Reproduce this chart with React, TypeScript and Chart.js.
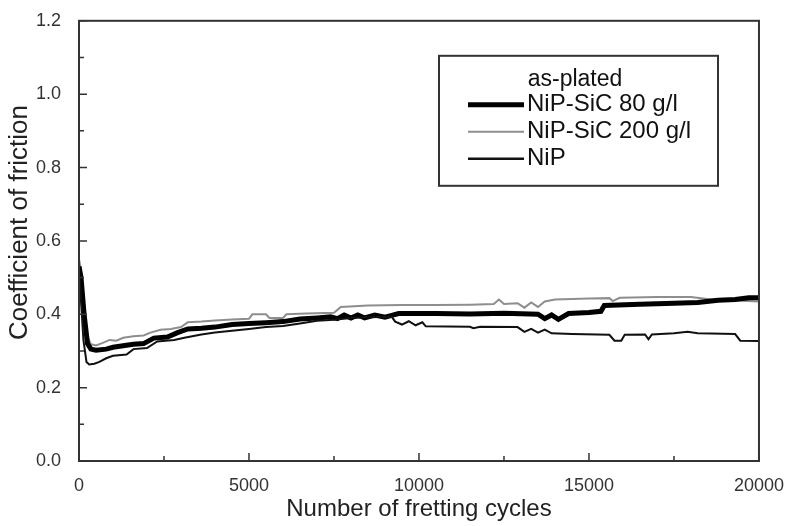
import React, { useEffect, useRef } from "react";
import { Chart, registerables } from "chart.js";

Chart.register(...registerables);

const xTicks = [0, 5000, 10000, 15000, 20000];
const yTicks = [0.0, 0.2, 0.4, 0.6, 0.8, 1.0, 1.2];
const legendTitle = "as-plated";
const xTitle = "Number of fretting cycles";
const yTitle = "Coefficient of friction";

const sic80Label = "NiP-SiC 80 g/l";
const sic80X = [0, 60, 150, 250, 350, 500, 800, 1000, 1300, 1600, 1900, 2200, 2600, 2900, 3200, 3600, 4000, 4500, 5000, 5500, 6000, 6500, 7000, 7400, 7600, 7800, 8000, 8200, 8400, 8700, 9000, 9200, 9400, 10500, 11500, 12500, 13500, 13700, 13900, 14100, 14400, 15000, 15350, 15450, 16500, 17500, 18200, 18800, 19300, 19700, 20000];
const sic80Y = [0.53, 0.5, 0.4, 0.32, 0.305, 0.302, 0.305, 0.31, 0.314, 0.318, 0.32, 0.335, 0.338, 0.35, 0.36, 0.362, 0.365, 0.372, 0.375, 0.377, 0.38, 0.387, 0.39, 0.393, 0.388, 0.398, 0.39, 0.398, 0.39, 0.398, 0.392, 0.397, 0.402, 0.402, 0.401, 0.403, 0.4, 0.388, 0.398, 0.386, 0.402, 0.405, 0.408, 0.424, 0.427, 0.43, 0.432, 0.438, 0.44, 0.445, 0.445];

const sic200Label = "NiP-SiC 200 g/l";
const sic200X = [0, 60, 150, 250, 350, 500, 700, 900, 1100, 1300, 1600, 1900, 2100, 2400, 2700, 3000, 3200, 3600, 4000, 4500, 5000, 5100, 5500, 5600, 6000, 6100, 6700, 7500, 7700, 8500, 9500, 10500, 11500, 12200, 12350, 12500, 12900, 13100, 13300, 13500, 13700, 14000, 15000, 15600, 15700, 15900, 17000, 18000, 18600, 19000, 19500, 20000];
const sic200Y = [0.55, 0.52, 0.42, 0.34, 0.318, 0.315, 0.322, 0.33, 0.328, 0.336, 0.34, 0.342, 0.35, 0.358, 0.36, 0.365, 0.378, 0.38, 0.383, 0.386, 0.388, 0.4, 0.4, 0.39, 0.39, 0.4, 0.402, 0.404, 0.42, 0.424, 0.425, 0.425, 0.426, 0.428, 0.44, 0.428, 0.43, 0.418, 0.432, 0.42, 0.435, 0.44, 0.443, 0.444, 0.436, 0.445, 0.447, 0.447, 0.44, 0.44, 0.437, 0.435];

const nipLabel = "NiP";
const nipX = [0, 50, 130, 220, 300, 450, 600, 800, 1000, 1400, 1600, 2000, 2300, 2800, 3100, 3600, 4000, 4500, 5000, 5500, 6000, 6500, 7000, 7500, 8000, 8500, 9200, 9300, 9500, 9700, 9900, 10100, 10200, 11500, 11600, 11800, 12900, 13100, 13300, 13500, 13700, 13900, 14500, 15600, 15750, 15950, 16050, 16650, 16750, 16850, 17500, 17900, 18200, 19300, 19450, 20000];
const nipY = [0.52, 0.45, 0.33, 0.27, 0.263, 0.265, 0.27, 0.28, 0.287, 0.29, 0.305, 0.308, 0.326, 0.33, 0.336, 0.345, 0.35, 0.355, 0.36, 0.365, 0.368, 0.375, 0.382, 0.385, 0.39, 0.392, 0.393, 0.38, 0.372, 0.381, 0.37, 0.378, 0.367, 0.366, 0.362, 0.366, 0.365, 0.352, 0.36, 0.35, 0.358, 0.348, 0.346, 0.344, 0.328, 0.328, 0.344, 0.345, 0.332, 0.345, 0.348, 0.352, 0.348, 0.346, 0.328, 0.327];

const FONT = "'Liberation Sans', Arial, Helvetica, sans-serif";

const toPoints = (xs: number[], ys: number[]) => xs.map((x, i) => ({ x, y: ys[i] }));

const framePlugin = {
  id: "frameTicks",
  afterDatasetsDraw(chart: any) {
    const { ctx, chartArea: ca, scales } = chart;
    const xs = scales.x;
    const ys = scales.y;
    ctx.save();
    ctx.strokeStyle = "#333";
    ctx.lineWidth = 2;
    ctx.strokeRect(ca.left, ca.top, ca.right - ca.left, ca.bottom - ca.top);
    ctx.lineWidth = 1.5;
    ctx.beginPath();
    for (let v = 0; v <= 20000; v += 2500) {
      const px = xs.getPixelForValue(v);
      const len = v % 5000 === 0 ? 8 : 5;
      ctx.moveTo(px, ca.bottom);
      ctx.lineTo(px, ca.bottom - len);
    }
    for (let k = 0; k <= 12; k++) {
      const py = ys.getPixelForValue(k / 10);
      const len = k % 2 === 0 ? 8 : 5;
      ctx.moveTo(ca.left, py);
      ctx.lineTo(ca.left + len, py);
    }
    ctx.stroke();
    ctx.restore();
  },
  afterDraw(chart: any) {
    const { ctx, chartArea: ca, scales } = chart;
    // y axis title, centred at the 0.65 level of the axis as in the reference
    ctx.save();
    ctx.fillStyle = "#222";
    ctx.font = `26px ${FONT}`;
    ctx.textAlign = "center";
    ctx.textBaseline = "middle";
    ctx.translate(20, scales.y.getPixelForValue(0.65));
    ctx.rotate(-Math.PI / 2);
    ctx.fillText(yTitle, 0, 0);
    ctx.restore();

    const bx = ca.left + 360;
    const by = ca.top + 35;
    const bw = 279;
    const bh = 130;
    ctx.save();
    ctx.fillStyle = "#fff";
    ctx.fillRect(bx, by, bw, bh);
    ctx.strokeStyle = "#333";
    ctx.lineWidth = 2;
    ctx.strokeRect(bx, by, bw, bh);
    ctx.fillStyle = "#111";
    ctx.font = `23px ${FONT}`;
    ctx.textBaseline = "middle";
    ctx.textAlign = "center";
    ctx.fillText(legendTitle, bx + 136, by + 24);
    ctx.textAlign = "left";
    ctx.font = `24px ${FONT}`;
    const rows = [49, 76, 103];
    chart.data.datasets.forEach((ds: any, i: number) => {
      const y = by + rows[i];
      ctx.strokeStyle = ds.borderColor;
      ctx.lineWidth = ds.legendWidth;
      ctx.beginPath();
      ctx.moveTo(bx + 29, y);
      ctx.lineTo(bx + 85, y);
      ctx.stroke();
      ctx.fillText(ds.label, bx + 88, y);
    });
    ctx.restore();
  },
};

export default function App() {
  const ref = useRef<HTMLCanvasElement | null>(null);
  useEffect(() => {
    document.body.style.margin = "0";
    const chart = new Chart(ref.current as HTMLCanvasElement, {
      type: "line",
      data: {
        datasets: [
          {
            label: sic80Label,
            data: toPoints(sic80X, sic80Y),
            borderColor: "#000",
            borderWidth: 5,
            legendWidth: 5,
            pointRadius: 0,
            tension: 0,
            order: 1,
          } as any,
          {
            label: sic200Label,
            data: toPoints(sic200X, sic200Y),
            borderColor: "#8e8e8e",
            borderWidth: 2,
            legendWidth: 2,
            pointRadius: 0,
            tension: 0,
            order: 2,
          } as any,
          {
            label: nipLabel,
            data: toPoints(nipX, nipY),
            borderColor: "#111",
            borderWidth: 2,
            legendWidth: 2.5,
            pointRadius: 0,
            tension: 0,
            order: 0,
          } as any,
        ],
      },
      options: {
        responsive: false,
        animation: false,
        events: [],
        layout: { padding: { top: 18, right: 31, left: 0, bottom: 0 } },
        plugins: { legend: { display: false }, tooltip: { enabled: false } },
        scales: {
          x: {
            type: "linear",
            min: 0,
            max: 20000,
            afterFit: (s: any) => { s.height = 65; },
            afterBuildTicks: (s: any) => { s.ticks = xTicks.map((v) => ({ value: v })); },
            grid: { display: false },
            border: { display: false },
            ticks: { padding: 6, color: "#333", font: { family: FONT, size: 18 }, maxRotation: 0, callback: (v: any) => String(v) },
            title: { display: true, text: xTitle, color: "#222", font: { family: FONT, size: 24 }, padding: { top: 0, bottom: 2 } },
          },
          y: {
            type: "linear",
            min: 0,
            max: 1.2,
            afterFit: (s: any) => { s.width = 79; },
            afterBuildTicks: (s: any) => { s.ticks = yTicks.map((v) => ({ value: v })); },
            grid: { display: false },
            border: { display: false },
            ticks: { padding: 10, color: "#333", font: { family: FONT, size: 18 }, callback: (v: any) => Number(v).toFixed(1) },
            title: { display: false, text: yTitle },
          },
        },
      },
      plugins: [framePlugin],
    } as any);
    return () => chart.destroy();
  }, []);
  return (
    <div style={{ position: "absolute", left: 0, top: 0, width: 790, height: 526, background: "#fff" }}>
      <canvas ref={ref} width={790} height={526} />
    </div>
  );
}
